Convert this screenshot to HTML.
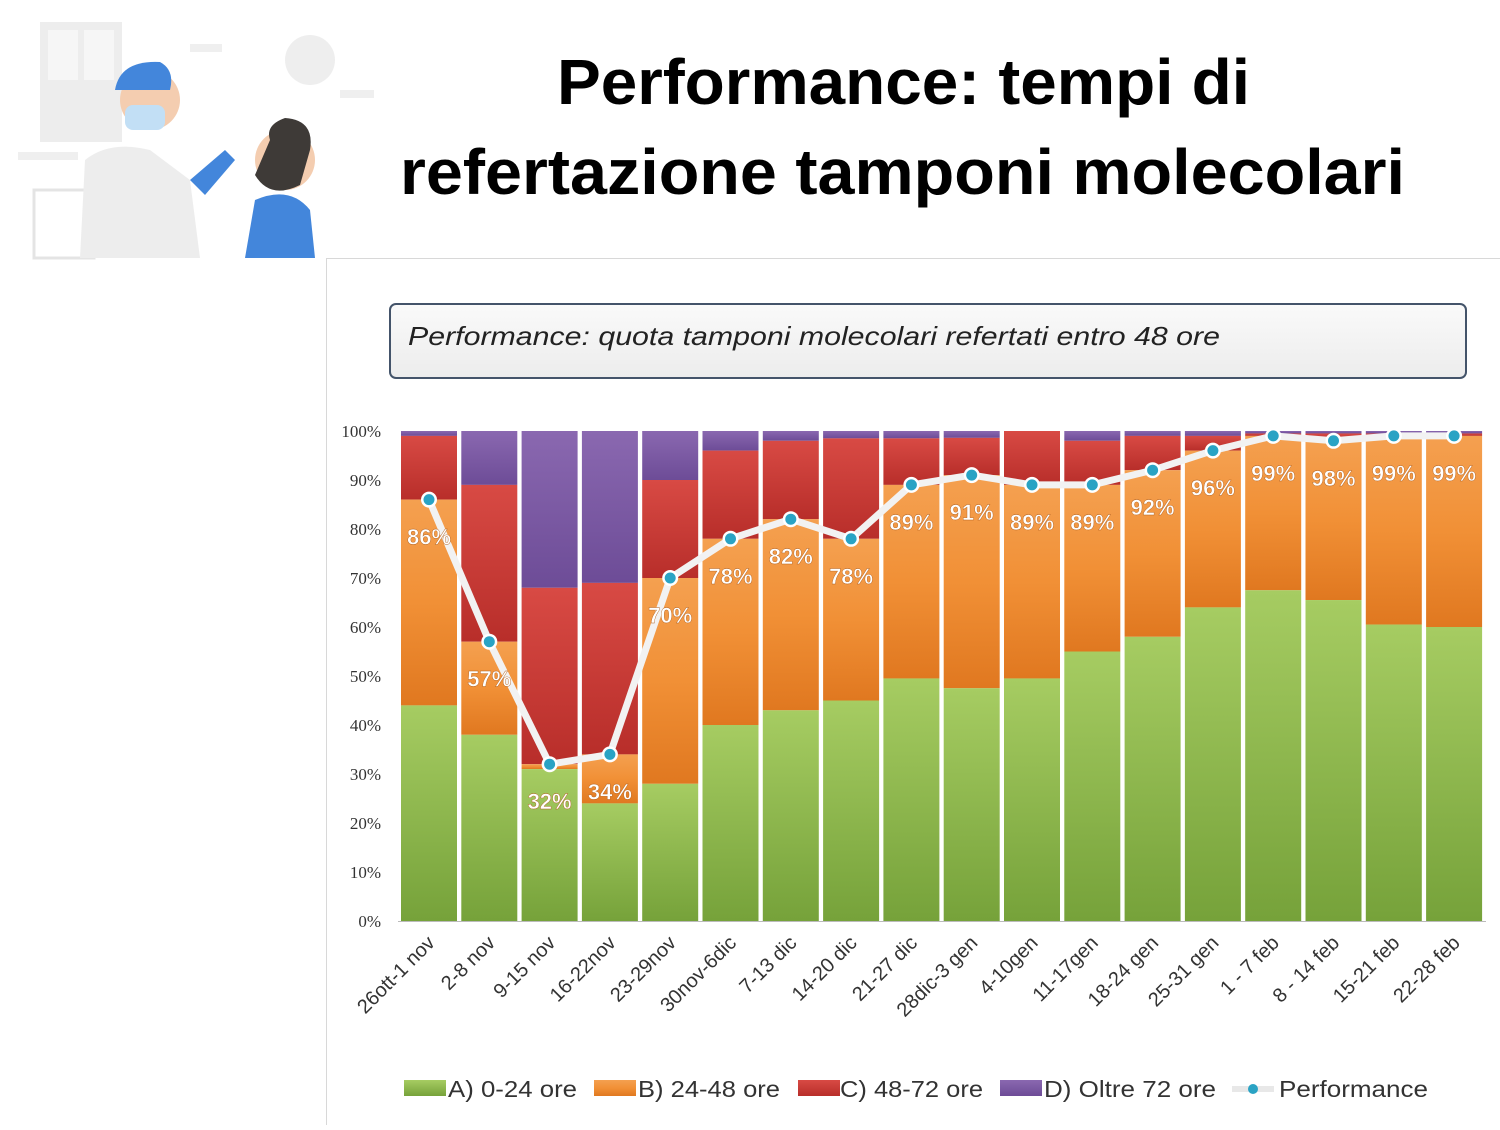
<!DOCTYPE html>
<html><head><meta charset="utf-8"><style>
body{margin:0;width:1500px;height:1125px;background:#fff;overflow:hidden;font-family:"Liberation Sans",sans-serif}
</style></head><body>
<svg width="1500" height="1125" xmlns="http://www.w3.org/2000/svg">
<defs>
<linearGradient id="g" x1="0" y1="0" x2="0" y2="1"><stop offset="0" stop-color="#a6cc62"/><stop offset="1" stop-color="#76a23a"/></linearGradient>
<linearGradient id="o" x1="0" y1="0" x2="0" y2="1"><stop offset="0" stop-color="#f4a050"/><stop offset="0.5" stop-color="#f19036"/><stop offset="1" stop-color="#e07820"/></linearGradient>
<linearGradient id="r" x1="0" y1="0" x2="0" y2="1"><stop offset="0" stop-color="#d84a44"/><stop offset="1" stop-color="#b82e2a"/></linearGradient>
<linearGradient id="p" x1="0" y1="0" x2="0" y2="1"><stop offset="0" stop-color="#8a68b0"/><stop offset="1" stop-color="#6d4c97"/></linearGradient>
<linearGradient id="tb" x1="0" y1="0" x2="0" y2="1"><stop offset="0" stop-color="#fafafa"/><stop offset="1" stop-color="#ececec"/></linearGradient>
</defs>
<g opacity="0.9">
<rect x="40" y="22" width="82" height="120" fill="#ececec"/>
<rect x="48" y="30" width="30" height="50" fill="#f6f6f6"/><rect x="84" y="30" width="30" height="50" fill="#f6f6f6"/>
<circle cx="310" cy="60" r="25" fill="#ededed"/>
<rect x="190" y="44" width="32" height="8" fill="#eee"/><rect x="340" y="90" width="34" height="8" fill="#eee"/>
<rect x="18" y="152" width="60" height="8" fill="#eee"/>
<rect x="34" y="190" width="60" height="68" fill="none" stroke="#e2e2e2" stroke-width="3"/>
<path d="M80 258 L85 160 Q110 140 150 150 L190 180 L200 258 Z" fill="#ececec"/>
<circle cx="150" cy="100" r="30" fill="#f3c8a8"/>
<path d="M115 90 Q120 60 160 62 Q175 70 170 90 Z" fill="#2f7ad8"/>
<rect x="125" y="105" width="40" height="25" rx="8" fill="#bcdcf5"/>
<path d="M190 180 L225 150 L235 160 L205 195 Z" fill="#2f7ad8"/>
<path d="M245 258 L255 200 Q290 185 310 210 L315 258 Z" fill="#2f7ad8"/>
<circle cx="285" cy="160" r="30" fill="#f3c8a8"/>
<path d="M255 175 Q270 200 300 185 L310 150 Q315 120 285 118 Q265 125 270 140 Z" fill="#2a2522"/>
</g>
<text x="557" y="104" font-size="64" font-weight="bold" fill="#000" textLength="693" lengthAdjust="spacingAndGlyphs">Performance: tempi di</text>
<text x="400" y="194" font-size="64" font-weight="bold" fill="#000" textLength="1005" lengthAdjust="spacingAndGlyphs">refertazione tamponi molecolari</text>
<rect x="326.5" y="258.5" width="1180" height="870" fill="#fff" stroke="#d8d8d8"/>
<rect x="390" y="304" width="1076" height="74" rx="6" fill="url(#tb)" stroke="#44546a" stroke-width="2"/>
<text x="408" y="345" font-size="26" font-style="italic" fill="#222" textLength="812" lengthAdjust="spacingAndGlyphs">Performance: quota tamponi molecolari refertati entro 48 ore</text>
<g id="chart"></g>
<g font-family="Liberation Serif,serif" font-size="17" fill="#333" text-anchor="end">
<text x="381" y="927">0%</text><text x="381" y="878">10%</text><text x="381" y="829">20%</text><text x="381" y="780">30%</text><text x="381" y="731">40%</text><text x="381" y="682">50%</text><text x="381" y="633">60%</text><text x="381" y="584">70%</text><text x="381" y="535">80%</text><text x="381" y="486">90%</text><text x="381" y="437">100%</text>
</g>
<line x1="398" y1="921.5" x2="1486" y2="921.5" stroke="#bbb"/>
<g font-size="23" fill="#333">
<rect x="404" y="1080" width="42" height="16" fill="url(#g)"/><text x="448" y="1097" textLength="129" lengthAdjust="spacingAndGlyphs">A) 0-24 ore</text>
<rect x="594" y="1080" width="42" height="16" fill="url(#o)"/><text x="638" y="1097" textLength="142" lengthAdjust="spacingAndGlyphs">B) 24-48 ore</text>
<rect x="798" y="1080" width="42" height="16" fill="url(#r)"/><text x="840" y="1097" textLength="143" lengthAdjust="spacingAndGlyphs">C) 48-72 ore</text>
<rect x="1000" y="1080" width="42" height="16" fill="url(#p)"/><text x="1044" y="1097" textLength="172" lengthAdjust="spacingAndGlyphs">D) Oltre 72 ore</text>
<line x1="1232" y1="1089" x2="1274" y2="1089" stroke="#e8e8e8" stroke-width="6"/><circle cx="1253" cy="1089" r="5" fill="#2aa3c4"/>
<text x="1279" y="1097" textLength="149" lengthAdjust="spacingAndGlyphs">Performance</text>
</g>
</svg>
<script>
const d=[[44,86,99,"26ott-1 nov"],[38,57,89,"2-8 nov"],[31,32,68,"9-15 nov"],[24,34,69,"16-22nov"],[28,70,90,"23-29nov"],[40,78,96,"30nov-6dic"],[43,82,98,"7-13 dic"],[45,78,98.5,"14-20 dic"],[49.5,89,98.5,"21-27 dic"],[47.5,91,98.6,"28dic-3 gen"],[49.5,89,100,"4-10gen"],[55,89,98,"11-17gen"],[58,92,99,"18-24 gen"],[64,96,99,"25-31 gen"],[67.5,99,99.5,"1 - 7 feb"],[65.5,98,99.5,"8 - 14 feb"],[60.5,99,99.5,"15-21 feb"],[60,99,99.5,"22-28 feb"]];
const Y=v=>921-v*4.9;let s="",pts=[],lab="",xl="";
d.forEach((b,i)=>{const x=401+i*60.3,w=56,c=x+w/2;
s+=`<rect x="${x}" y="${Y(100)}" width="${w}" height="${Y(b[2])-Y(100)}" fill="url(#p)"/>`;
s+=`<rect x="${x}" y="${Y(b[2])}" width="${w}" height="${Y(b[1])-Y(b[2])}" fill="url(#r)"/>`;
s+=`<rect x="${x}" y="${Y(b[1])}" width="${w}" height="${Y(b[0])-Y(b[1])}" fill="url(#o)"/>`;
s+=`<rect x="${x}" y="${Y(b[0])}" width="${w}" height="${921-Y(b[0])}" fill="url(#g)"/>`;
pts.push(c+","+Y(b[1]));
const ly=Y(b[1])+45;
lab+=`<text x="${c}" y="${ly}" text-anchor="middle" font-size="22" font-weight="bold" fill="#fff" stroke="#b06020" stroke-width="0.4">${b[1]}%</text>`;
xl+=`<text transform="translate(${c+7},944) rotate(-45)" text-anchor="end" font-size="20" fill="#333">${b[3]}</text>`;});
let dots=pts.map(p=>{const[a,b]=p.split(",");return `<circle cx="${a}" cy="${b}" r="8" fill="#fff"/><circle cx="${a}" cy="${b}" r="5.5" fill="#2aa3c4"/>`}).join("");
document.getElementById("chart").innerHTML=s+`<polyline points="${pts.join(" ")}" fill="none" stroke="#f2f2f2" stroke-width="7" stroke-linejoin="round"/>`+dots+lab+xl;
</script>
</body></html>
